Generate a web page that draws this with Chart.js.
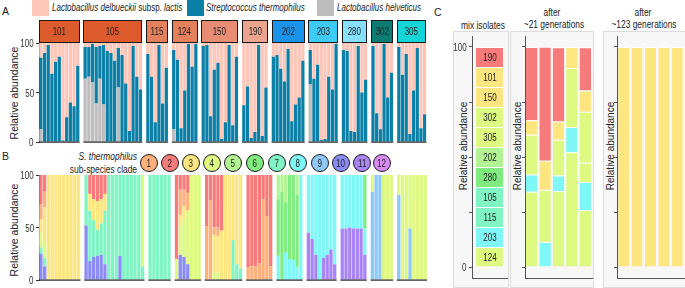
<!DOCTYPE html>
<html>
<head>
<meta charset="utf-8">
<script src="https://cdn.jsdelivr.net/npm/chart.js@4.4.1/dist/chart.umd.min.js"></script>
<style>
  html, body { margin: 0; padding: 0; background: #fff; }
  body { width: 685px; height: 288px; position: relative; overflow: hidden;
         font-family: "Liberation Sans", Arial, sans-serif; color: #222; }
  canvas { position: absolute; }
  .n { display: inline-block; transform: scaleX(0.8); }
  .lab { position: absolute; font-size: 10px; white-space: nowrap; line-height: 12px; }
  .lab .n { transform-origin: left center; }
  .labr { position: absolute; font-size: 10.5px; white-space: nowrap; line-height: 12px; text-align: right; }
  .labr .n { transform-origin: right center; }
  .letter { position: absolute; font-size: 10.5px; }
  .ylab { position: absolute; font-size: 10.5px; white-space: nowrap; transform: translate(-50%, -50%) rotate(-90deg); }
  .key { position: absolute; top: 0; width: 17px; height: 16px; }
  .facet { position: absolute; box-sizing: border-box; border: 1.5px solid #1a1a1a; display: flex;
           align-items: center; justify-content: center; font-size: 10px; color: #222; }
  .clade { position: absolute; width: 18px; height: 18px; box-sizing: border-box; border: 1.5px solid #1a1a1a;
           border-radius: 50%; display: flex; align-items: center; justify-content: center; font-size: 10px; }
  .box { position: absolute; background: #f7f7f7; border: 1px solid #dcdcdc; box-sizing: border-box; }
  .seg { position: absolute; font-size: 10px; transform: translate(-50%, -50%) scaleX(0.8); white-space: nowrap; }
  .ctr { position: absolute; transform: translateX(-50%) scaleX(0.8); font-size: 10.5px; white-space: nowrap; }
  .tick { position: absolute; font-size: 10px; color: #333; white-space: nowrap;
          transform: translateY(-50%) scaleX(0.8); transform-origin: right center; }
</style>
</head>
<body>
<div class="letter" style="left:2px;top:5px">A</div>
<div class="letter" style="left:2px;top:150px">B</div>
<div class="letter" style="left:434px;top:6px">C</div>

<div class="key" style="left:32px;background:#fdc6b8"></div>
<div class="lab" style="left:52px;top:2px"><span class="n"><i>Lactobacillus delbueckii</i> subsp. <i>lactis</i></span></div>
<div class="key" style="left:187px;background:#0b7fa6"></div>
<div class="lab" style="left:206px;top:2px"><span class="n"><i>Streptococcus thermophilus</i></span></div>
<div class="key" style="left:317px;background:#bdbdbd"></div>
<div class="lab" style="left:337px;top:2px"><span class="n"><i>Lactobacillus helveticus</i></span></div>

<div class="labr" style="right:548px;top:150px"><span class="n"><i>S. thermophilus</i></span></div>
<div class="labr" style="right:548px;top:163px"><span class="n">sub-species clade</span></div>

<div class="ylab" style="left:14px;top:93px">Relative abundance</div>
<div class="ylab" style="left:14px;top:230px">Relative abundance</div>

<div class="box" style="left:453px;top:31px;width:56px;height:257px"></div>
<div class="box" style="left:510px;top:31px;width:84px;height:257px"></div>
<div class="box" style="left:603px;top:31px;width:84px;height:257px"></div>
<div class="ctr" style="left:483px;top:19px">mix isolates</div>
<div class="ctr" style="left:552px;top:6px">after</div>
<div class="ctr" style="left:554px;top:18px">~21 generations</div>
<div class="ctr" style="left:643px;top:6px">after</div>
<div class="ctr" style="left:644px;top:18px">~123 generations</div>
<div class="ylab" style="left:463px;top:146px;font-size:10px">Relative abundance</div>
<div class="ylab" style="left:517px;top:146px;font-size:10px">Relative abundance</div>
<div class="ylab" style="left:610px;top:146px;font-size:10px">Relative abundance</div>

<canvas id="chartA" width="430" height="150" style="left:0;top:0"></canvas>
<canvas id="chartB" width="430" height="148" style="left:0;top:140px"></canvas>
<canvas id="chartMix" width="57" height="258" style="left:452px;top:28px"></canvas>
<canvas id="chart21" width="84" height="258" style="left:510px;top:28px"></canvas>
<canvas id="chart123" width="82" height="258" style="left:603px;top:28px"></canvas>

<script>
Chart.defaults.font.family = '"Liberation Sans", Arial, sans-serif';
Chart.defaults.color = '#333';
Chart.defaults.animation = false;

// --- panel A: cheese isolates ---
const isolates = ['101', '105', '115', '124', '150', '190', '202', '203', '280', '302', '305'];
const isolateColors = ['#dc5a2c', '#dc5a2c', '#e5805c', '#e5805c', '#e88c73', '#eca48e',
                       '#1a94ea', '#3dcbf5', '#86dffb', '#0a7c74', '#14d4d8'];

// % S. thermophilus per sample
const thermophilus = [
  [72, 90, 98, 69, 81, 86, 1.5, 25, 40, 36, 77],
  [32, 30, 39, 57, 33, 60, 92, 90, 82, 40, 88, 59, 11, 97, 66, 53],
  [89, 66, 20, 98, 39, 75],
  [80, 83, 14, 52, 99, 76, 99],
  [97, 98, 26, 73, 80, 3, 20, 98, 17, 86],
  [37, 56, 4, 10, 98, 6, 55],
  [86, 88, 74, 61, 94, 21, 38, 45, 82],
  [35, 64, 78, 2, 3, 66, 53, 99],
  [93, 92, 11, 10, 97, 50, 63],
  [97, 29, 13, 99, 45, 70],
  [96, 68, 89, 8, 52, 95, 14, 28]
];
// % L. helveticus per sample (rest is L. delbrueckii)
const helveticus = [
  [13, 0, 0, 0, 0, 0, 0, 0, 0, 0, 0],
  [64, 66, 60, 39, 64, 38, 0, 0, 0, 55, 0, 0, 0, 0, 0, 0],
  [0, 0, 0, 0, 0, 0],
  [13, 0, 0, 0, 0, 0, 0],
  [0, 0, 0, 0, 0, 0, 0, 0, 0, 0],
  [0, 0, 0, 0, 0, 0, 0],
  [0, 0, 0, 0, 0, 0, 0, 0, 0],
  [58, 0, 0, 0, 0, 0, 0, 0],
  [0, 0, 0, 0, 0, 0, 0],
  [0, 0, 0, 0, 0, 0],
  [0, 0, 0, 0, 0, 0, 0, 0]
];

// --- panel B: S. thermophilus sub-species clades ---
const clades = ['1', '2', '3', '4', '5', '6', '7', '8', '9', '10', '11', '12'];
const cladeColors = ['#fdb07b', '#f77b7b', '#fde680', '#def981', '#b2f393', '#80ec80',
                     '#80f5c3', '#80f7f7', '#8ec8f7', '#8b8bf5', '#a984f5', '#d98af5'];
const cladeStack = [11, 10, 9, 8, 7, 6, 5, 4, 3, 1, 2]; // bottom -> top

const cladesB = [
  [{10: 25, 7: 6, 4: 14, 3: 13, 1: 14, 2: 28}, {10: 13, 7: 8, 4: 14, 3: 34, 1: 15, 2: 16},
   {3: 100}, {3: 100}, {3: 100}, {3: 100}, {3: 100}, {3: 100}, {3: 100}, {3: 100}, {3: 100}],
  [{10: 52, 7: 48}, {10: 18, 7: 48, 3: 16, 2: 18}, {10: 22, 7: 35, 3: 20, 2: 23},
   {10: 23, 7: 25, 3: 27, 2: 25}, {10: 24, 7: 30, 3: 23, 2: 23}, {10: 15, 7: 51, 3: 16, 2: 18},
   {7: 100}, {7: 100}, {7: 100}, {10: 23, 7: 77}, {7: 100}, {7: 100}, {7: 100}, {7: 100},
   {7: 100}, {7: 13, 4: 87}],
  [{7: 100}, {7: 100}, {7: 100}, {7: 100}, {7: 100}, {7: 100}],
  [{4: 20, 2: 80}, {10: 24, 4: 28, 3: 10, 1: 24, 2: 14}, {10: 22, 4: 36, 3: 12, 1: 16, 2: 14},
   {10: 15, 4: 51, 1: 17, 2: 17}, {4: 100}, {4: 100}, {4: 100}],
  [{1: 51, 2: 49}, {1: 76, 2: 24}, {4: 7, 3: 36, 1: 7, 2: 50}, {4: 7, 3: 35, 1: 8, 2: 50},
   {3: 47, 2: 53}, {3: 100}, {3: 100}, {7: 38, 3: 62}, {7: 15, 3: 85}, {7: 11, 3: 89}],
  [{1: 12, 2: 88}, {1: 13, 2: 87}, {1: 13, 2: 87}, {1: 16, 2: 84}, {1: 77, 2: 23},
   {1: 61, 2: 39}, {1: 13, 2: 87}],
  [{8: 23, 6: 54, 5: 23}, {6: 84, 5: 16}, {8: 26, 6: 48, 5: 26}, {8: 20, 6: 80},
   {8: 19, 6: 81}, {8: 12, 6: 69, 5: 19}, {8: 100}],
  [{11: 45, 8: 55}, {11: 39, 8: 61}, {11: 24, 8: 76}, {8: 100}, {11: 21, 8: 79},
   {11: 24, 8: 76}, {11: 29, 8: 71}, {11: 15, 8: 85}],
  [{11: 49, 8: 51}, {11: 49, 8: 51}, {11: 50, 8: 50}, {11: 49, 8: 51}, {11: 49, 8: 51},
   {11: 49, 8: 51}, {11: 24, 8: 25, 6: 51}],
  [{9: 84, 4: 16}, {9: 100}, {9: 100}, {4: 100}, {4: 100}, {4: 100}],
  [{9: 81, 4: 19}, {4: 100}, {4: 100}, {9: 49, 4: 51}, {4: 100}, {4: 100}, {4: 100}, {4: 100}]
];

// --- panel C: competition experiment ---
const mixIsolates = ['124', '203', '115', '105', '280', '202', '305', '302', '150', '101', '190']; // bottom -> top
const mixClade = [4, 8, 7, 7, 6, 5, 4, 4, 3, 3, 2];
const mixShare = [9.09, 9.09, 9.09, 9.09, 9.09, 9.09, 9.09, 9.09, 9.09, 9.09, 9.09];

const replicates = ['1', '2', '3', '4', '5'];
const gen21Strains = ['124', '203', '305', '302', '150', '190'];
const gen21Clade = [4, 8, 4, 4, 3, 2];
const gen21_124 = [34.2, 0, 34.6, 52.2, 25.9];
const gen21_203 = [7.9, 11.4, 7.0, 11.4, 12.7];
const gen21_305 = [0, 0, 0, 0, 8.8];
const gen21_302 = [18.0, 23.7, 16.2, 26.8, 23.2];
const gen21_150 = [6.6, 13.2, 8.3, 9.6, 9.6];
const gen21_190 = [33.3, 51.8, 33.8, 0, 19.7];
const gen123_150 = [100, 100, 100, 100, 100];

const tealC = '#0b7fa6', pinkC = '#fdc6b8', greyC = '#bdbdbd';

function slotLayout(groups, names) {
  const labels = [], ranges = [];
  groups.forEach((g, i) => {
    if (i > 0) labels.push('gap' + i);
    const start = labels.length;
    g.forEach((_, j) => labels.push(names[i] + '.' + (j + 1)));
    ranges.push([start, labels.length - 1]);
  });
  return { labels, ranges };
}
function spread(groups, pick) {
  const out = [];
  groups.forEach((g, i) => {
    if (i > 0) out.push(null);
    g.forEach((v, j) => out.push(pick(v, i, j)));
  });
  return out;
}

// tick labels as narrow html text next to the axis
function htmlTicks(chart, values) {
  const y = chart.scales.y, c = chart.canvas;
  values.forEach(v => {
    const d = document.createElement('div');
    d.className = 'tick';
    d.style.right = (685 - (c.offsetLeft + y.right - 5)) + 'px';
    d.style.top = (c.offsetTop + y.getPixelForValue(v)) + 'px';
    d.textContent = v;
    document.body.appendChild(d);
  });
}

// dark base line under every facet
const facetLines = {
  id: 'facetLines',
  afterDatasetsDraw(chart, args, opts) {
    if (!opts.ranges) return;
    const x = chart.scales.x, ctx = chart.ctx;
    const half = (x.getPixelForValue(1) - x.getPixelForValue(0)) / 2;
    ctx.save();
    ctx.fillStyle = '#222';
    opts.ranges.forEach(([s, e]) => {
      const x0 = x.getPixelForValue(s) - half, x1 = x.getPixelForValue(e) + half;
      ctx.fillRect(x0, chart.chartArea.bottom - 0.5, x1 - x0, 1.2);
    });
    ctx.restore();
  }
};

function facetYAxis(width) {
  return {
    stacked: true, min: 0, max: 100,
    ticks: { stepSize: 50, font: { size: 10 }, padding: 2, callback: () => '' },
    grid: { drawOnChartArea: false, tickLength: 3, tickColor: '#333' },
    border: { color: '#333' },
    afterFit(s) { s.width = width; }
  };
}

const barStyle = { barPercentage: 0.88, categoryPercentage: 1, borderWidth: 0 };

// panel A chart
const layA = slotLayout(thermophilus, isolates);
const chartA = new Chart(document.getElementById('chartA'), {
  type: 'bar',
  data: {
    labels: layA.labels,
    datasets: [
      { label: 'Lactobacillus helveticus', data: spread(helveticus, v => v), backgroundColor: greyC, ...barStyle },
      { label: 'Streptococcus thermophilus', data: spread(thermophilus, v => v), backgroundColor: tealC, ...barStyle },
      { label: 'Lactobacillus delbueckii subsp. lactis',
        data: spread(thermophilus, (v, i, j) => 100 - v - helveticus[i][j]), backgroundColor: pinkC, ...barStyle }
    ]
  },
  options: {
    responsive: false,
    layout: { padding: { top: 43, right: 3.5, bottom: 4, left: 0 } },
    plugins: { legend: { display: false }, tooltip: { enabled: false }, facetLines: { ranges: layA.ranges } },
    scales: { x: { stacked: true, display: false }, y: facetYAxis(39) }
  },
  plugins: [facetLines]
});
htmlTicks(chartA, [100, 50, 0]);

// facet strips above panel A
(function () {
  const x = chartA.scales.x;
  const half = (x.getPixelForValue(1) - x.getPixelForValue(0)) / 2;
  layA.ranges.forEach(([s, e], i) => {
    const d = document.createElement('div');
    d.className = 'facet';
    const x0 = x.getPixelForValue(s) - half, x1 = x.getPixelForValue(e) + half;
    d.style.left = x0 + 'px';
    d.style.width = (x1 - x0) + 'px';
    d.style.top = '20px';
    d.style.height = '23px';
    d.style.background = isolateColors[i];
    d.innerHTML = '<span class="n">' + isolates[i] + '</span>';
    document.body.appendChild(d);
  });
})();

// panel B chart
const layB = slotLayout(cladesB, isolates);
const chartB = new Chart(document.getElementById('chartB'), {
  type: 'bar',
  data: {
    labels: layB.labels,
    datasets: cladeStack.map(c => ({
      label: 'clade ' + c,
      data: spread(cladesB, b => b[c] || 0),
      backgroundColor: cladeColors[c - 1],
      ...barStyle
    }))
  },
  options: {
    responsive: false,
    layout: { padding: { top: 35, right: 3, bottom: 3, left: 0 } },
    plugins: { legend: { display: false }, tooltip: { enabled: false }, facetLines: { ranges: layB.ranges } },
    scales: { x: { stacked: true, display: false }, y: facetYAxis(39) }
  },
  plugins: [facetLines]
});
htmlTicks(chartB, [100, 50, 0]);

// clade key circles
const cladeX = [149, 170, 191, 212, 233, 255, 277, 298, 320, 341, 362, 382];
clades.forEach((c, i) => {
  const d = document.createElement('div');
  d.className = 'clade';
  d.style.left = (cladeX[i] - 9) + 'px';
  d.style.top = '154px';
  d.style.background = cladeColors[i];
  d.innerHTML = '<span class="n">' + c + '</span>';
  document.body.appendChild(d);
});

// panel C charts
const cTicks = [0, 25, 50, 75, 100];
function cYAxis(width) {
  return {
    stacked: true, min: -5, max: 105,
    afterBuildTicks(s) { s.ticks = cTicks.map(v => ({ value: v })); },
    afterFit(s) { s.width = width; },
    ticks: { font: { size: 10 }, padding: 2, callback: () => '' },
    grid: { drawOnChartArea: false, tickLength: 3, tickColor: '#555' },
    border: { color: '#555' }
  };
}
const cXAxis = {
  stacked: true,
  ticks: { display: false },
  grid: { display: false, drawTicks: false },
  border: { display: true, color: '#555' },
  afterFit(s) { s.height = 0; }
};
const segBorder = { borderColor: '#ffffff', borderWidth: { top: 1, right: 0, bottom: 0, left: 0 }, borderSkipped: 'start' };

const chartMix = new Chart(document.getElementById('chartMix'), {
  type: 'bar',
  data: {
    labels: ['mix'],
    datasets: mixIsolates.map((name, i) => ({
      label: name, data: [mixShare[i]], backgroundColor: cladeColors[mixClade[i] - 1],
      barPercentage: 0.77, categoryPercentage: 1, ...segBorder
    }))
  },
  options: {
    responsive: false,
    layout: { padding: { top: 5, right: 2, bottom: 3, left: 0 } },
    plugins: { legend: { display: false }, tooltip: { enabled: false } },
    scales: { x: cXAxis, y: cYAxis(20) }
  }
});
htmlTicks(chartMix, [100, 0]);

// isolate names inside the mix bar
(function () {
  const y = chartMix.scales.y, x = chartMix.scales.x;
  const left = chartMix.canvas.offsetLeft, top = chartMix.canvas.offsetTop;
  let acc = 0;
  mixIsolates.forEach((name, i) => {
    const mid = acc + mixShare[i] / 2;
    acc += mixShare[i];
    const d = document.createElement('div');
    d.className = 'seg';
    d.style.left = (left + x.getPixelForValue(0)) + 'px';
    d.style.top = (top + y.getPixelForValue(mid)) + 'px';
    d.textContent = name;
    document.body.appendChild(d);
  });
})();

const gen21Values = [gen21_124, gen21_203, gen21_305, gen21_302, gen21_150, gen21_190];
new Chart(document.getElementById('chart21'), {
  type: 'bar',
  data: {
    labels: replicates,
    datasets: gen21Strains.map((name, i) => ({
      label: name, data: gen21Values[i], backgroundColor: cladeColors[gen21Clade[i] - 1],
      barPercentage: 0.86, categoryPercentage: 1, ...segBorder
    }))
  },
  options: {
    responsive: false,
    layout: { padding: { top: 5, right: 2, bottom: 3, left: 0 } },
    plugins: { legend: { display: false }, tooltip: { enabled: false } },
    scales: { x: cXAxis, y: cYAxis(15) }
  }
});

new Chart(document.getElementById('chart123'), {
  type: 'bar',
  data: {
    labels: replicates,
    datasets: [{ label: '150', data: gen123_150, backgroundColor: cladeColors[2],
                 barPercentage: 0.82, categoryPercentage: 1, ...segBorder }]
  },
  options: {
    responsive: false,
    layout: { padding: { top: 5, right: 1, bottom: 3, left: 0 } },
    plugins: { legend: { display: false }, tooltip: { enabled: false } },
    scales: { x: cXAxis, y: cYAxis(14) }
  }
});
</script>
</body>
</html>
